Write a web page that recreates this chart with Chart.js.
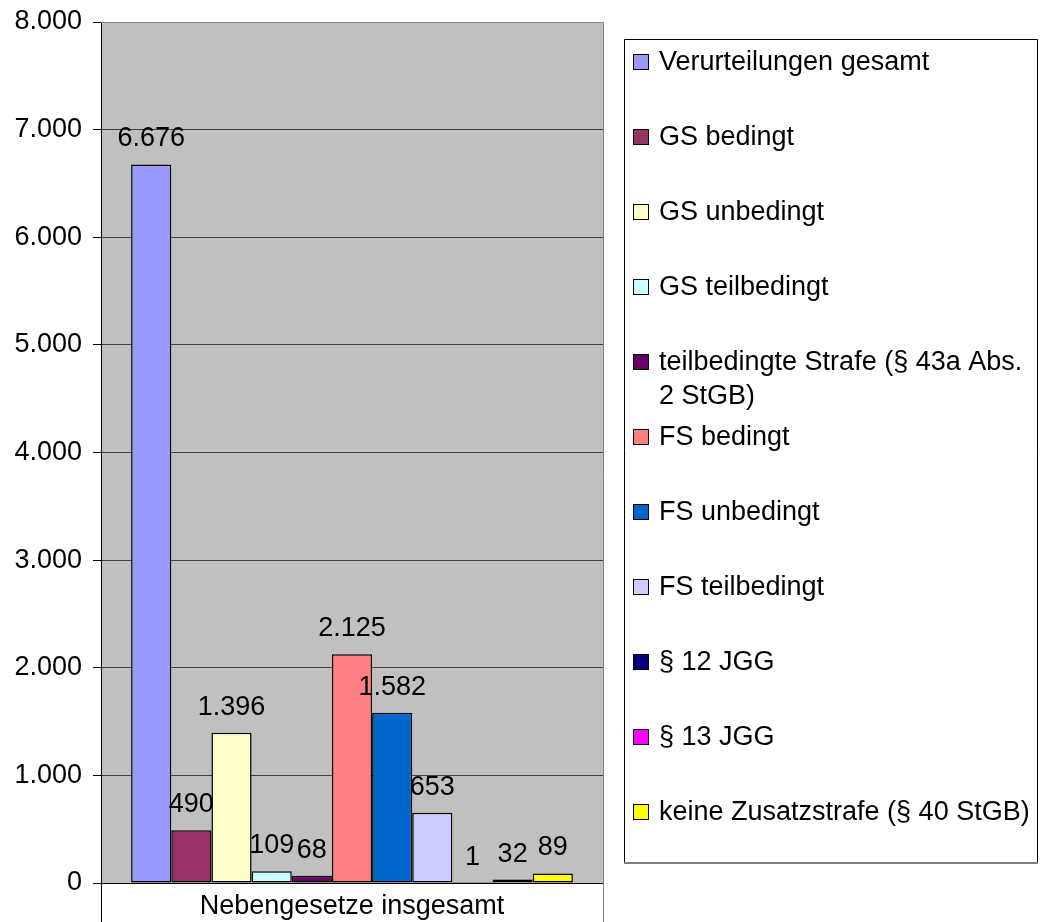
<!DOCTYPE html>
<html>
<head>
<meta charset="utf-8">
<script src="https://cdn.jsdelivr.net/npm/chart.js@4"></script>
<style>
  html, body { margin: 0; padding: 0; background: #fff; }
  #wrap { width: 1040px; height: 922px; }
</style>
</head>
<body>
<div id="wrap"><canvas id="chart"></canvas></div>
<script>
const categories = ['Nebengesetze insgesamt'];
const seriesNames = [
  'Verurteilungen gesamt',
  'GS bedingt',
  'GS unbedingt',
  'GS teilbedingt',
  ['teilbedingte Strafe (§ 43a Abs.', '2 StGB)'],
  'FS bedingt',
  'FS unbedingt',
  'FS teilbedingt',
  '§ 12 JGG',
  '§ 13 JGG',
  'keine Zusatzstrafe (§ 40 StGB)'
];
const seriesValues = [6676, 490, 1396, 109, 68, 2125, 1582, 653, 1, 32, 89];
const seriesColors = ['#9999FF', '#993366', '#FFFFCC', '#CCFFFF', '#660066', '#FF8080',
                      '#0066CC', '#CCCCFF', '#000080', '#FF00FF', '#FFFF00'];
const yMax = 8000;
const yStep = 1000;

const FONT = 'Liberation Sans, Arial, sans-serif';

// 6676 -> "6.676"
function fmt(v) {
  return String(v).replace(/\B(?=(\d{3})+(?!\d))/g, '.');
}

// grey plot area, frame and category separators below the axis
const plotFrame = {
  id: 'plotFrame',
  beforeDraw(chart) {
    const { ctx, chartArea: a } = chart;
    ctx.save();
    ctx.fillStyle = '#C0C0C0';
    ctx.fillRect(a.left, a.top, a.right - a.left, a.bottom - a.top);
    ctx.restore();
  },
  afterDraw(chart) {
    const { ctx, chartArea: a } = chart;
    ctx.save();
    ctx.lineWidth = 1;
    ctx.strokeStyle = '#808080';
    ctx.beginPath();
    ctx.moveTo(a.left, a.top + 0.5);
    ctx.lineTo(a.right + 0.5, a.top + 0.5);
    ctx.lineTo(a.right + 0.5, chart.height);
    ctx.stroke();
    ctx.strokeStyle = '#000';
    ctx.beginPath();
    ctx.moveTo(a.left + 0.5, a.bottom);
    ctx.lineTo(a.left + 0.5, chart.height);
    ctx.stroke();
    ctx.restore();
  }
};

// value labels above each bar
const valueLabels = {
  id: 'valueLabels',
  afterDatasetsDraw(chart) {
    const ctx = chart.ctx;
    ctx.save();
    ctx.font = '27px ' + FONT;
    ctx.fillStyle = '#000';
    ctx.textAlign = 'center';
    ctx.textBaseline = 'alphabetic';
    chart.data.datasets.forEach((ds, i) => {
      const meta = chart.getDatasetMeta(i);
      meta.data.forEach((bar, j) => {
        ctx.fillText(fmt(ds.data[j]), bar.x, bar.y - 18);
      });
    });
    ctx.restore();
  }
};

// boxed legend on the right, with a wrapped entry
const boxLegend = {
  id: 'boxLegend',
  afterDraw(chart) {
    const ctx = chart.ctx;
    const box = { left: 624, top: 39, right: 1037, bottom: 862 };
    ctx.save();
    ctx.lineWidth = 1;
    ctx.strokeStyle = '#000';
    ctx.beginPath();
    ctx.moveTo(box.left + 0.5, box.bottom);
    ctx.lineTo(box.left + 0.5, box.top + 0.5);
    ctx.lineTo(box.right + 0.5, box.top + 0.5);
    ctx.lineTo(box.right + 0.5, box.bottom);
    ctx.stroke();
    ctx.strokeStyle = '#808080';
    ctx.lineWidth = 2;
    ctx.beginPath();
    ctx.moveTo(box.left, box.bottom + 1);
    ctx.lineTo(box.right + 1, box.bottom + 1);
    ctx.stroke();
    ctx.lineWidth = 1;
    ctx.font = '27px ' + FONT;
    ctx.textAlign = 'left';
    ctx.textBaseline = 'middle';
    seriesNames.forEach((name, k) => {
      const cy = box.top + 23 + 75 * k;
      ctx.fillStyle = seriesColors[k];
      ctx.fillRect(633, cy - 8, 16, 16);
      ctx.strokeStyle = '#000';
      ctx.strokeRect(633.5, cy - 7.5, 15, 15);
      ctx.fillStyle = '#000';
      const lines = Array.isArray(name) ? name : [name];
      lines.forEach((line, n) => ctx.fillText(line, 659, cy + 1 + n * 34));
    });
    ctx.restore();
  }
};

Chart.defaults.font.family = FONT;
Chart.defaults.color = '#000';

new Chart(document.getElementById('chart'), {
  type: 'bar',
  data: {
    labels: categories,
    datasets: seriesNames.map((name, i) => ({
      label: Array.isArray(name) ? name.join(' ') : name,
      data: [seriesValues[i]],
      backgroundColor: seriesColors[i],
      borderColor: '#000',
      borderWidth: 1.5,
      borderSkipped: false,
      categoryPercentage: 0.88,
      barPercentage: 1
    }))
  },
  options: {
    responsive: true,
    maintainAspectRatio: false,
    animation: false,
    layout: { padding: { top: 22, right: 437, left: 0, bottom: 0 } },
    plugins: {
      legend: { display: false },
      tooltip: { enabled: false }
    },
    scales: {
      x: {
        grid: { display: false, drawTicks: false },
        border: { display: true, color: '#000' },
        ticks: { font: { size: 27 }, padding: 7 },
        afterFit(scale) { scale.height = 39; }
      },
      y: {
        min: 0,
        max: yMax,
        ticks: { stepSize: yStep, padding: 11, font: { size: 27 }, callback: v => fmt(v) },
        grid: { color: '#404040', tickColor: '#000', tickLength: 8 },
        border: { color: '#000' },
        afterFit(scale) {
          scale.width = 101;
          scale.paddingTop = 0;
          scale.paddingBottom = 0;
        }
      }
    }
  },
  plugins: [plotFrame, valueLabels, boxLegend]
});
</script>
</body>
</html>
